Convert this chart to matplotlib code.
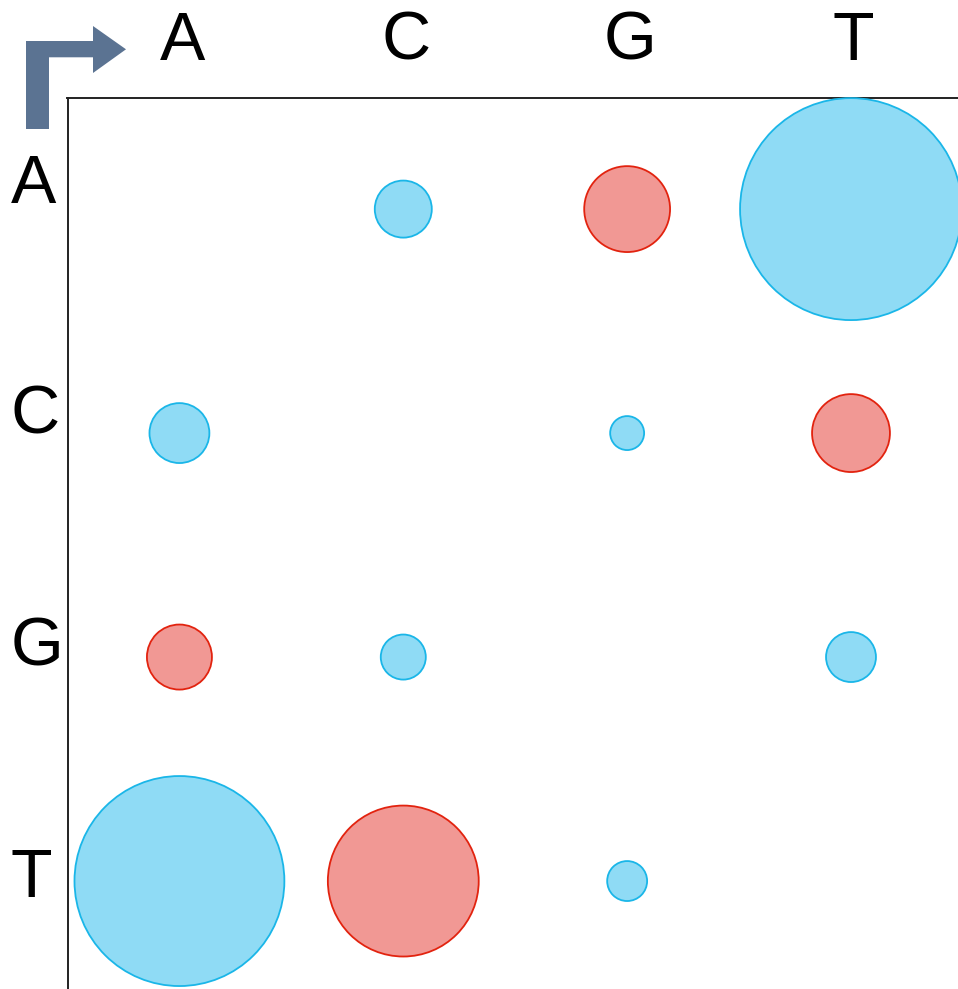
import matplotlib
matplotlib.use("Agg")
import matplotlib.pyplot as plt
from matplotlib.patches import Circle, Polygon
from matplotlib.transforms import blended_transform_factory

bases = ["A", "C", "G", "T"]
# (row base, column base, relative magnitude, kind)
rows = ["A", "A", "A", "C", "C", "C", "G", "G", "G", "T", "T", "T"]
cols = ["C", "G", "T", "A", "G", "T", "A", "C", "T", "A", "C", "G"]
magnitude = [0.257, 0.387, 1.0, 0.270, 0.153, 0.351, 0.293, 0.203, 0.225, 0.946, 0.680, 0.180]
kind = ["tv", "ts", "tv", "tv", "tv", "ts", "ts", "tv", "tv", "tv", "ts", "tv"]

fill = {"tv": "#8FDBF5", "ts": "#F19894"}
edge = {"tv": "#1AB6E8", "ts": "#E2230F"}

W, H, DPI = 958, 989, 100
fig = plt.figure(figsize=(W / DPI, H / DPI), dpi=DPI)
left = 67.5 / W
top = 1 - 98 / H
ax = fig.add_axes([left, 0, 1 - left, top])
ax.set_xlim(-0.5, 3.478)
ax.set_ylim(3.482, -0.496)

max_r = 111 / 224
for r, c, m, k in zip(rows, cols, magnitude, kind):
    x = bases.index(c)
    y = bases.index(r)
    ax.add_patch(Circle((x, y), m * max_r, facecolor=fill[k], edgecolor=edge[k],
                        linewidth=1.3, clip_on=False, zorder=3))

for s in ["right", "bottom"]:
    ax.spines[s].set_visible(False)
for s in ["left", "top"]:
    ax.spines[s].set_color("#222222")
    ax.spines[s].set_linewidth(1.4)

font = "Liberation Sans"
fs = 49
# column labels (top)
tr = blended_transform_factory(ax.transData, fig.transFigure)
for i, b in enumerate(bases):
    ax.text(i + 0.012, 1 - 60 / H, b, transform=tr, fontsize=fs, family=font,
            ha="center", va="baseline")
ax.set_xticks([])
ax.set_yticks([])

# row labels (left)
row_baselines_px = [203, 434, 665, 897]
for b, yb in zip(bases, row_baselines_px):
    fig.text(11 / W, 1 - yb / H, b, fontsize=fs, family=font, ha="left", va="baseline")

# bent arrow in the corner
pts_px = [(26, 129), (26, 41), (93, 41), (93, 26), (126, 49.3), (93, 73), (93, 57.3), (49, 57.3), (49, 129)]
pts = [(x / W, 1 - y / H) for x, y in pts_px]
fig.add_artist(Polygon(pts, closed=True, transform=fig.transFigure,
                       facecolor="#5B7392", edgecolor="none"))

fig.savefig("out.png", dpi=DPI)
